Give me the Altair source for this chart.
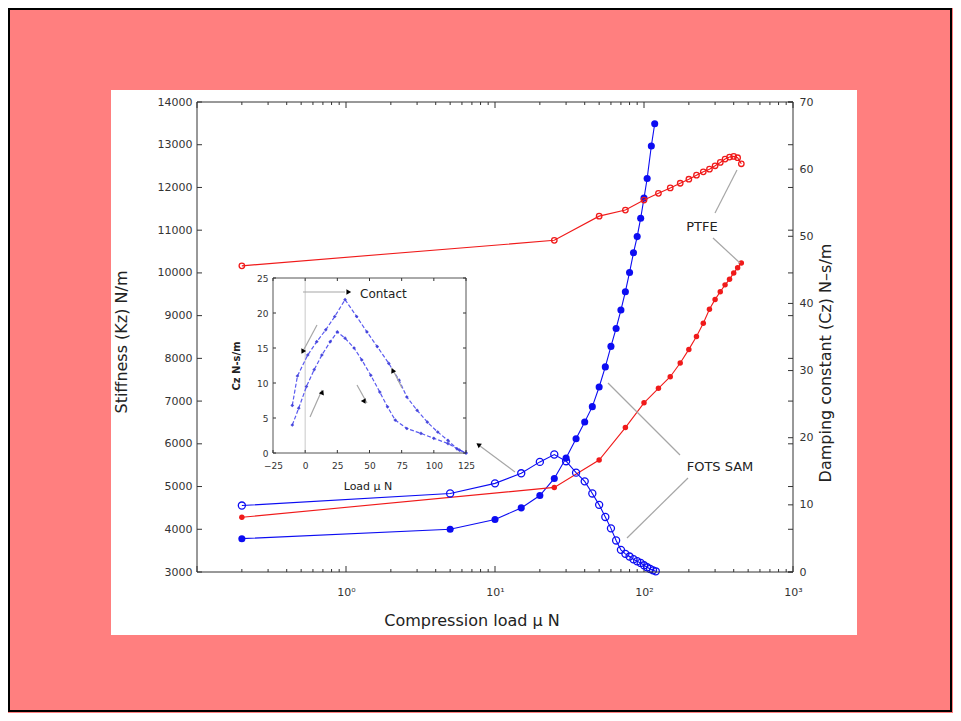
import altair as alt
import pandas as pd

# ---------------- data ----------------
# FOTS SAM, stiffness (left axis, filled circles)
sam_k_load = [0.2, 5, 10, 15, 20, 25, 30, 35, 40, 45, 50, 55, 60, 65, 70, 75, 80, 85, 90, 95, 100, 105, 112, 118]
sam_k = [3780, 4000, 4230, 4500, 4790, 5190, 5670, 6120, 6510, 6870, 7330, 7800, 8280, 8700, 9130, 9560,
         10010, 10470, 10850, 11280, 11750, 12210, 12970, 13490]
# FOTS SAM, damping (right axis, open circles)
sam_c_load = [0.2, 5, 10, 15, 20, 25, 30, 35, 40, 45, 50, 55, 60, 65, 70, 75, 80, 85, 90, 95, 100, 105, 110, 115, 120]
sam_c = [9.9, 11.7, 13.2, 14.7, 16.4, 17.5, 16.5, 14.8, 13.5, 11.7, 10.0, 8.2, 6.5, 4.7, 3.3, 2.7, 2.3,
         1.9, 1.6, 1.35, 1.0, 0.7, 0.45, 0.25, 0.1]
# PTFE
ptfe_load = [0.2, 25, 50, 75, 100, 125, 150, 175, 200, 225, 250, 275, 300, 325, 350, 375, 400, 425, 450]
ptfe_k = [4280, 4980, 5620, 6380, 6960, 7300, 7570, 7890, 8210, 8510, 8820, 9150, 9380, 9560, 9720,
          9850, 10000, 10120, 10230]
ptfe_c = [45.6, 49.4, 53.0, 53.9, 55.4, 56.4, 57.2, 57.9, 58.5, 59.1, 59.6, 60.0, 60.5, 61.0, 61.5,
          61.8, 61.9, 61.7, 60.8]
# inset: damping vs load (two loops)
inset_up_load = [-10, -6, 2, 9, 16, 23, 31, 40, 48, 56, 65, 73, 79, 87, 95, 103, 111, 118, 125]
inset_up_c = [6.8, 11.0, 14.0, 15.9, 17.6, 19.5, 21.9, 19.5, 17.3, 15.2, 12.8, 10.4, 8.0, 6.1, 4.4, 3.0, 1.8, 0.6, 0.0]
inset_low_load = [-10, -5, 1, 7, 13, 19.5, 25, 31, 38, 44, 51, 58, 64, 70, 79, 90, 100, 111, 120, 125]
inset_low_c = [4.0, 6.4, 9.5, 11.9, 14.0, 15.9, 17.3, 16.4, 15.0, 13.3, 11.1, 8.7, 6.6, 4.7, 3.5, 2.8, 2.1, 1.35, 0.4, 0.0]

# tick values
x_major = [0.1, 1, 10, 100, 1000]
x_minor = [0.2, 0.3, 0.4, 0.5, 0.6, 0.7, 0.8, 0.9, 2, 3, 4, 5, 6, 7, 8, 9, 20, 30, 40, 50, 60, 70, 80, 90,
           200, 300, 400, 500, 600, 700, 800, 900]
x_labels = [1, 10, 100, 1000]
k_ticks = [3000, 4000, 5000, 6000, 7000, 8000, 9000, 10000, 11000, 12000, 13000, 14000]
c_ticks = [0, 10, 20, 30, 40, 50, 60, 70]
inset_x_ticks = [-25, 0, 25, 50, 75, 100, 125]
inset_y_ticks = [0, 5, 10, 15, 20, 25]

# ---------------- layout / style ----------------
FONT = "DejaVu Sans"
W, H = 596, 470
IX0, IX1, IYT, IYB = 76, 269, 176, 351
BLUE, RED = "#0c0cf2", "#f01a1a"
TICK = "#333333"

xscale = alt.Scale(type="log", domain=[0.1, 1000], nice=False)
kscale = alt.Scale(domain=[3000, 14000], nice=False, zero=False)
cscale = alt.Scale(domain=[0, 70], nice=False)
ixscale = alt.Scale(domain=[-25, 125], range=[IX0, IX1], nice=False, zero=False)
iyscale = alt.Scale(domain=[0, 25], range=[IYB, IYT], nice=False)
col = alt.Scale(domain=["FOTS SAM", "PTFE"], range=[BLUE, RED])

lab = dict(labelFont=FONT, labelColor="#333", labelFlush=False, labelOverlap=False,
           ticks=False, domain=False, grid=False, title=None, zindex=2)
label_expr = ("datum.value == 1 ? '10\u2070' : datum.value == 10 ? '10\u00b9' : "
              "datum.value == 100 ? '10\u00b2' : '10\u00b3'")
x_axis = alt.Axis(values=x_labels, labelExpr=label_expr, labelFontSize=11, labelPadding=14, **lab)
k_axis = alt.Axis(orient="left", values=k_ticks, format="d", labelFontSize=11, labelPadding=5, **lab)
c_axis = alt.Axis(orient="right", values=c_ticks, format="d", labelFontSize=11, labelPadding=6, **lab)
ix_axis = alt.Axis(orient="bottom", offset=-(H - IYB), values=inset_x_ticks, labelFontSize=9,
                   labelPadding=8, **lab)
iy_axis = alt.Axis(orient="left", offset=-IX0, values=inset_y_ticks, labelFontSize=9, labelPadding=5, **lab)


def one():
    return alt.Chart(pd.DataFrame({"a": [0]}))


# ---------------- main: stiffness ----------------
stiff_df = pd.DataFrame({
    "load": sam_k_load + ptfe_load,
    "k": sam_k + ptfe_k,
    "series": ["FOTS SAM"] * len(sam_k) + ["PTFE"] * len(ptfe_k),
})
sbase = alt.Chart(stiff_df).encode(
    x=alt.X("load:Q", scale=xscale, axis=x_axis),
    y=alt.Y("k:Q", scale=kscale, axis=k_axis),
    color=alt.Color("series:N", scale=col, legend=None),
)
s_line = sbase.mark_line(strokeWidth=1.1)
s_pts = sbase.mark_point(filled=True, opacity=1, shape="circle").encode(
    size=alt.Size("series:O", scale=alt.Scale(domain=["FOTS SAM", "PTFE"], range=[50, 30]), legend=None))


def xticks(vals, y1, y2):
    return alt.Chart(pd.DataFrame({"load": vals})).mark_rule(color=TICK, strokeWidth=1).encode(
        x=alt.X("load:Q", scale=xscale), y=alt.value(y1), y2=alt.value(y2))


def kticks(x1, x2):
    return alt.Chart(pd.DataFrame({"k": k_ticks})).mark_rule(color=TICK, strokeWidth=1).encode(
        y=alt.Y("k:Q", scale=kscale), x=alt.value(x1), x2=alt.value(x2))


stiff = alt.layer(
    s_line, s_pts,
    xticks(x_major, H, H - 6), xticks(x_minor, H, H - 3),
    xticks(x_major, 0, 6), xticks(x_minor, 0, 3),
    kticks(0, 5), kticks(W - 5, W),
)

# ---------------- main: damping ----------------
damp_df = pd.DataFrame({
    "load": sam_c_load + ptfe_load,
    "c": sam_c + ptfe_c,
    "series": ["FOTS SAM"] * len(sam_c) + ["PTFE"] * len(ptfe_c),
})
dbase = alt.Chart(damp_df).encode(
    x=alt.X("load:Q", scale=xscale),
    y=alt.Y("c:Q", scale=cscale, axis=c_axis),
    color=alt.Color("series:N", scale=col, legend=None),
)
d_line = dbase.mark_line(strokeWidth=1.1)
d_pts = dbase.mark_point(filled=False, opacity=1, shape="circle", strokeWidth=1.3).encode(
    size=alt.Size("series:O", scale=alt.Scale(domain=["FOTS SAM", "PTFE"], range=[45, 26]), legend=None))
d_ticks = alt.Chart(pd.DataFrame({"c": c_ticks})).mark_rule(color=TICK, strokeWidth=1).encode(
    y=alt.Y("c:Q", scale=cscale), x=alt.value(W - 5), x2=alt.value(W))
damp = alt.layer(d_line, d_pts, d_ticks)

main = alt.layer(stiff, damp).resolve_scale(y="independent")

# ---------------- inset ----------------
inset_df = pd.DataFrame({
    "load": inset_up_load + inset_low_load,
    "c": inset_up_c + inset_low_c,
    "loop": ["upper"] * len(inset_up_c) + ["lower"] * len(inset_low_c),
})
ibase = alt.Chart(inset_df).encode(
    x=alt.X("load:Q", scale=ixscale, axis=ix_axis),
    y=alt.Y("c:Q", scale=iyscale, axis=iy_axis),
    detail="loop:N",
)
i_line = ibase.mark_line(color="#5a5af0", strokeWidth=1.2, strokeDash=[4, 2])
i_pts = ibase.mark_point(filled=True, color="#3c3cd8", opacity=0.9, size=14, shape="diamond")
i_zero = alt.Chart(pd.DataFrame({"load": [0]})).mark_rule(color="#c8c8c8", strokeWidth=1).encode(
    x=alt.X("load:Q", scale=ixscale), y=alt.value(IYT), y2=alt.value(IYB))
i_xt_b = alt.Chart(pd.DataFrame({"load": inset_x_ticks})).mark_rule(color=TICK).encode(
    x=alt.X("load:Q", scale=ixscale), y=alt.value(IYB), y2=alt.value(IYB - 3))
i_xt_t = alt.Chart(pd.DataFrame({"load": inset_x_ticks})).mark_rule(color=TICK).encode(
    x=alt.X("load:Q", scale=ixscale), y=alt.value(IYT), y2=alt.value(IYT + 3))
i_yt_l = alt.Chart(pd.DataFrame({"c": inset_y_ticks})).mark_rule(color=TICK).encode(
    y=alt.Y("c:Q", scale=iyscale), x=alt.value(IX0), x2=alt.value(IX0 + 3))
i_yt_r = alt.Chart(pd.DataFrame({"c": inset_y_ticks})).mark_rule(color=TICK).encode(
    y=alt.Y("c:Q", scale=iyscale), x=alt.value(IX1 - 3), x2=alt.value(IX1))
inset = alt.layer(i_zero, i_line, i_pts, i_xt_b, i_xt_t, i_yt_l, i_yt_r)

# ---------------- decorations ----------------
panel = one().mark_rect(color="white").encode(
    x=alt.value(-86), x2=alt.value(660), y=alt.value(-12), y2=alt.value(533))
border = one().mark_rect(fill=None, stroke="black", strokeWidth=2).encode(
    x=alt.value(-188), x2=alt.value(754), y=alt.value(-93), y2=alt.value(609))
frame = one().mark_rect(fill=None, stroke="#333", strokeWidth=1).encode(
    x=alt.value(0), x2=alt.value(W), y=alt.value(0), y2=alt.value(H))
inset_box = one().mark_rect(fill="white", stroke="#555", strokeWidth=1).encode(
    x=alt.value(IX0), x2=alt.value(IX1), y=alt.value(IYT), y2=alt.value(IYB))

# annotation geometry (pixels inside the plot area)
lead = pd.DataFrame({
    "x1": [518, 516, 483, 491, 318, 106, 105, 113, 195, 160],
    "y1": [111, 136, 353, 376, 370, 190, 251, 315, 266, 283],
    "x2": [540, 543, 411, 430, 283, 148, 120, 125, 205, 170],
    "y2": [68, 161, 281, 436, 344, 190, 223, 288, 286, 301],
})
leaders = alt.Chart(lead).mark_rule(color="#a6a6a6", strokeWidth=1.2).encode(
    x=alt.X("x1:Q", scale=None, axis=None), x2="x2:Q",
    y=alt.Y("y1:Q", scale=None, axis=None), y2="y2:Q")
heads_df = pd.DataFrame({
    "x": [282, 151, 106, 125, 196, 167],
    "y": [343, 190, 249, 291, 269, 299],
    "ang": [306, 90, 208, 24, 333, 151],
})
heads = alt.Chart(heads_df).mark_point(shape="triangle", filled=True, color="black", opacity=1, size=30).encode(
    x=alt.X("x:Q", scale=None, axis=None), y=alt.Y("y:Q", scale=None, axis=None),
    angle=alt.Angle("ang:Q", scale=None))


def text(txt, x, y, size, angle=0, align="center", weight="normal", color="#222"):
    return one().mark_text(text=txt, font=FONT, fontSize=size, angle=angle, align=align,
                           baseline="middle", fontWeight=weight, color=color).encode(
        x=alt.value(x), y=alt.value(y))


texts = [
    text("PTFE", 505, 125, 13),
    text("FOTS  SAM", 523, 365, 13),
    text("Contact", 163, 192, 12, align="left"),
    text("Stiffness (Kz) N/m", -75, 240, 16, angle=270),
    text("Damping constant (Cz) N\u2013s/m", 629, 261, 16, angle=270),
    text("Compression load  \u03bc N", 275, 519, 16),
    text("Cz N-s/m", 40, 264, 10, angle=270, weight="bold"),
    text("Load \u03bc N", 171, 385, 11),
]

chart = alt.layer(
    panel, border, main, inset_box, inset, leaders, heads, *texts, frame
).resolve_scale(x="independent", y="independent").properties(
    width=W, height=H, background="#FF7F7F",
    padding={"left": 189, "top": 94, "right": 160, "bottom": 141},
    autosize=alt.AutoSizeParams(type="none"),
).configure_view(stroke=None)

chart.save("out.html", embed_options={"renderer": "svg", "actions": False})
